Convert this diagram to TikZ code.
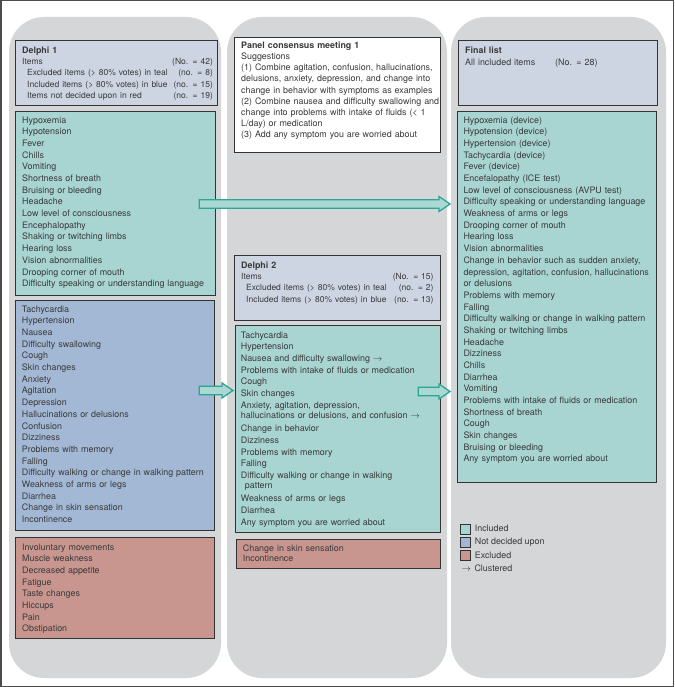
\documentclass[tikz,border=0pt]{standalone}
\usepackage{fontspec}
\setmainfont{TeX Gyre Heros}
\usetikzlibrary{positioning,calc}
\definecolor{colgray}{HTML}{D5D6D8}
\definecolor{hdrfill}{HTML}{CDD5E3}
\definecolor{tealfill}{HTML}{A8D4D2}
\definecolor{bluefill}{HTML}{A3B8D4}
\definecolor{redfill}{HTML}{C8968F}
\definecolor{boxline}{HTML}{333333}
\definecolor{txtgray}{HTML}{3A3A3A}
\definecolor{arrline}{HTML}{2BA596}
\definecolor{arrfill}{HTML}{AAD9D3}
\tikzset{
  colbg/.style={fill=colgray, rounded corners=35pt},
  listbox/.style={draw=boxline, line width=1.2pt, fill=#1, anchor=north west, inner sep=0pt},
  listbox/.default=white,
  listtxt/.style={anchor=base west, inner sep=0pt, align=left, text width=225pt, text=txtgray,
    font=\fontsize{8.9}{#1}\selectfont},
  listtxt/.default=11.67,
  blockarr/.style={draw=arrline, fill=arrfill, line width=1.3pt, line join=miter},
  legsq/.style={draw=boxline, line width=0.9pt, minimum size=10pt, inner sep=0pt, fill=#1},
  legtxt/.style={inner sep=0pt, text=txtgray, font=\fontsize{8.9}{11}\selectfont,
    text height=6.5pt, text depth=1.9pt},
  outerframe/.style={draw=black!70, line width=1.5pt}
}
\newcommand{\cntrow}[3]{\makebox[#1][l]{\fontsize{8.5}{11.3}\selectfont#2\hfill#3}}
\newcommand{\blockarrow}[5]{%
  \draw[blockarr] let \p1=(#1.east), \p2=(#2.west) in
    (\x1-#4pt,-#3pt+4.2pt) -- (\x2-#5pt-11pt,-#3pt+4.2pt) -- (\x2-#5pt-11pt,-#3pt+7.5pt)
    -- (\x2-#5pt,-#3pt) -- (\x2-#5pt-11pt,-#3pt-7.5pt) -- (\x2-#5pt-11pt,-#3pt-4.2pt)
    -- (\x1-#4pt,-#3pt-4.2pt) -- cycle;}

\begin{document}
\begin{tikzpicture}[x=1pt, y=-1pt]
  \useasboundingbox (0,0) rectangle (674,687);
  \fill[white] (0,0) rectangle (674,687);
  \draw[outerframe] (0.75,0.75) rectangle (673.25,686.25);

  \fill[colbg] (9,17) rectangle (221,678);
  \fill[colbg] (227,17) rectangle (447,678);
  \fill[colbg] (451,17) rectangle (666,678);

  \node[listbox=hdrfill, minimum width=202pt, minimum height=65pt] (hdr1) at (15,40) {};
  \node[listtxt=11.3] (hdr1txt) at (22,53.3) {\textbf{Delphi 1}\\
    \cntrow{190.7pt}{Items}{(No. = 42)}\\
    \cntrow{190.7pt}{\hspace*{5pt}Excluded items (> 80\% votes) in teal}{(no. = 8)}\\
    \cntrow{190.7pt}{\hspace*{5pt}Included items (> 80\% votes) in blue}{(no. = 15)}\\
    \cntrow{190.7pt}{\hspace*{5pt}Items not decided upon in red}{(no. = 19)}};

  \node[listbox=tealfill, minimum width=200pt, minimum height=184pt] (inc1) at (15,111) {};
  \node[listtxt] (inc1txt) at (22,123.3) {Hypoxemia\\ Hypotension\\ Fever\\ Chills\\ Vomiting\\
    Shortness of breath\\ Bruising or bleeding\\ Headache\\ Low level of consciousness\\
    Encephalopathy\\ Shaking or twitching limbs\\ Hearing loss\\ Vision abnormalities\\
    Drooping corner of mouth\\ Difficulty speaking or understanding language};

  \node[listbox=bluefill, minimum width=199pt, minimum height=230pt] (und1) at (15,300) {};
  \node[listtxt] (und1txt) at (21.7,312.3) {Tachycardia\\ Hypertension\\ Nausea\\
    Difficulty swallowing\\ Cough\\ Skin changes\\ Anxiety\\ Agitation\\ Depression\\
    Hallucinations or delusions\\ Confusion\\ Dizziness\\ Problems with memory\\ Falling\\
    Difficulty walking or change in walking pattern\\ Weakness of arms or legs\\ Diarrhea\\
    Change in skin sensation\\ Incontinence};

  \node[listbox=redfill, minimum width=199pt, minimum height=101pt] (exc1) at (15,537) {};
  \node[listtxt] (exc1txt) at (22,550.3) {Involuntary movements\\ Muscle weakness\\
    Decreased appetite\\ Fatigue\\ Taste changes\\ Hiccups\\ Pain\\ Obstipation};

  \node[listbox, minimum width=206pt, minimum height=115pt] (panel) at (234,37) {};
  \node[listtxt=11.2] (paneltxt) at (241,48.3) {\textbf{Panel consensus meeting 1}\\
    Suggestions\\
    (1) Combine agitation, confusion, hallucinations,\\
    delusions, anxiety, depression, and change into\\
    change in behavior with symptoms as examples\\
    (2) Combine nausea and difficulty swallowing and\\
    change into problems with intake of fluids (< 1\\
    L/day) or medication\\
    (3) Add any symptom you are worried about};

  \node[listbox=hdrfill, minimum width=206pt, minimum height=65pt] (hdr2) at (234,255) {};
  \node[listtxt=11.3] (hdr2txt) at (241,268.3) {\textbf{Delphi 2}\\
    \cntrow{192.3pt}{Items}{(No. = 15)}\\
    \cntrow{192.3pt}{\hspace*{5pt}Excluded items (> 80\% votes) in teal}{(no. = 2)}\\
    \cntrow{192.3pt}{\hspace*{5pt}Included items (> 80\% votes) in blue}{(no. = 13)}};

  \node[listbox=tealfill, minimum width=205pt, minimum height=207pt] (inc2) at (235,325) {};
  \node[listtxt] (inc2txt) at (240.7,338.3) {Tachycardia\\ Hypertension\\
    Nausea and difficulty swallowing $\rightarrow$\\
    Problems with intake of fluids or medication\\ Cough\\ Skin changes\\
    Anxiety, agitation, depression,\\[-1.67pt]
    hallucinations or delusions, and confusion $\rightarrow$\\[1.67pt]
    Change in behavior\\ Dizziness\\ Problems with memory\\ Falling\\
    Difficulty walking or change in walking\\[-1.67pt]
    \hspace*{4pt}pattern\\[1.67pt]
    Weakness of arms or legs\\ Diarrhea\\ Any symptom you are worried about};

  \node[listbox=redfill, minimum width=204pt, minimum height=29pt] (exc2) at (236,539) {};
  \node[listtxt=10] (exc2txt) at (242.7,551.3) {Change in skin sensation\\ Incontinence};

  \node[listbox=hdrfill, minimum width=199pt, minimum height=65pt] (hdr3) at (458,40) {};
  \node[listtxt=12] (hdr3txt) at (465,53.3) {\textbf{Final list}\\
    \makebox[90pt][l]{All included items}(No. = 28)};

  \node[listbox=tealfill, minimum width=199pt, minimum height=371pt] (inc3) at (457,111) {};
  \node[listtxt] (inc3txt) at (463.3,123.3) {Hypoxemia (device)\\ Hypotension (device)\\
    Hypertension (device)\\ Tachycardia (device)\\ Fever (device)\\
    Encefalopathy (ICE test)\\ Low level of consciousness (AVPU test)\\
    Difficulty speaking or understanding language\\ Weakness of arms or legs\\
    Drooping corner of mouth\\ Hearing loss\\ Vision abnormalities\\
    Change in behavior such as sudden anxiety,\\
    depression, agitation, confusion, hallucinations\\
    or delusions\\ Problems with memory\\ Falling\\
    Difficulty walking or change in walking pattern\\ Shaking or twitching limbs\\
    Headache\\ Dizziness\\ Chills\\ Diarrhea\\ Vomiting\\
    Problems with intake of fluids or medication\\ Shortness of breath\\ Cough\\
    Skin changes\\ Bruising or bleeding\\ Any symptom you are worried about};

  \blockarrow{inc1}{inc3}{204}{17}{7}
  \blockarrow{und1}{inc2}{390.5}{16}{2}
  \blockarrow{inc2}{inc3}{391.5}{23}{7}

  \node[legsq=tealfill] (legInc) at (465.7,529.3) {};
  \node[legtxt, right=3.5pt of legInc] (legIncTxt) {Included};
  \node[legsq=bluefill] (legUnd) at (465.7,542.5) {};
  \node[legtxt, right=3.5pt of legUnd] (legUndTxt) {Not decided upon};
  \node[legsq=redfill] (legExc) at (465.7,555.7) {};
  \node[legtxt, right=3.5pt of legExc] (legExcTxt) {Excluded};
  \node[legtxt, anchor=west] (legClu) at (461.5,568.9) {\makebox[12.8pt][l]{$\rightarrow$}Clustered};
\end{tikzpicture}
\end{document}
